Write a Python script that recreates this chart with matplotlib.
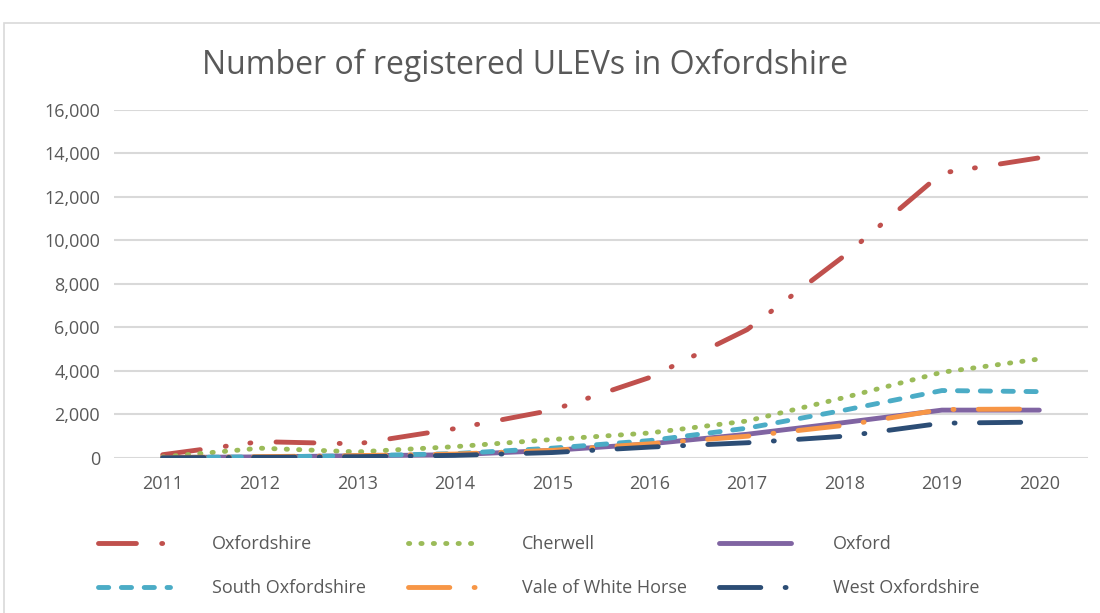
"""
Number of registered ULEVs in Oxfordshire, 2011-2020, by district.
"""

import matplotlib
matplotlib.use("Agg")
import matplotlib.pyplot as plt
from matplotlib.patches import Rectangle

years = ["2011", "2012", "2013", "2014", "2015", "2016", "2017", "2018", "2019", "2020"]

oxfordshire = [150, 750, 650, 1350, 2200, 3700, 5900, 9300, 13100, 13800]
cherwell = [50, 450, 280, 520, 850, 1150, 1700, 2780, 3940, 4550]
oxford = [20, 50, 100, 150, 350, 650, 1090, 1630, 2200, 2200]
south_oxfordshire = [20, 50, 100, 200, 450, 800, 1370, 2200, 3100, 3050]
vale_white_horse = [20, 60, 110, 180, 350, 650, 1000, 1500, 2230, 2250]
west_oxfordshire = [10, 30, 60, 120, 250, 500, 700, 1000, 1600, 1650]

series = [
    ("Oxfordshire", oxfordshire, "#C0504D", (0, (7.8, 5.2, 0.2, 4.9, 0.2, 5.2))),
    ("Cherwell", cherwell, "#9BBB59", (0, (0.25, 2.3))),
    ("Oxford", oxford, "#8064A2", "-"),
    ("South Oxfordshire", south_oxfordshire, "#4BACC6", (0, (2.1, 2.6))),
    ("Vale of White Horse", vale_white_horse, "#F79646", (0, (8.5, 5, 0.2, 5))),
    ("West Oxfordshire", west_oxfordshire, "#2C4D75", (0, (8.5, 5, 0.2, 5))),
]

text_col = "#595959"
plt.rcParams["font.family"] = ["Open Sans", "DejaVu Sans"]

fig = plt.figure(figsize=(11, 6.13), dpi=100)
ax = fig.add_axes([0.1036, 0.2529, 0.8855, 0.5677])

# chart border
fig.patches.append(Rectangle((4 / 1100, -0.05), 1.2, 1.031 - 11.5 / 613,
                             transform=fig.transFigure, fill=False,
                             edgecolor="#D9D9D9", linewidth=1.2))

x = list(range(len(years)))
lines = []
for name, vals, color, ls in series:
    ln, = ax.plot(x, vals, color=color, linestyle=ls, linewidth=3.5,
                  dash_capstyle="round", solid_capstyle="round", label=name)
    lines.append(ln)

ax.set_xlim(-0.5, len(years) - 0.5)
ax.set_ylim(0, 16000)
ax.set_yticks(range(0, 16001, 2000))
ax.set_yticklabels([f"{v:,}" for v in range(0, 16001, 2000)])
ax.set_xticks(x)
ax.set_xticklabels(years)
ax.tick_params(length=0, labelsize=13, colors=text_col, pad=10)
ax.tick_params(axis="x", pad=12)
ax.grid(axis="y", color="#D9D9D9", linewidth=1.5)
ax.set_axisbelow(True)
for s in ax.spines.values():
    s.set_visible(False)

fig.text(0.477, 0.894, "Number of registered ULEVs in Oxfordshire",
         ha="center", va="center", fontsize=23, color=text_col)

# legend: three equal-width columns, filled row by row
col_x = [98 / 1100, 408 / 1100, 719 / 1100]
for i, cx in enumerate(col_x):
    fig.legend([lines[i], lines[i + 3]],
               [series[i][0], series[i + 3][0]],
               loc="upper left", bbox_to_anchor=(cx, 0.127), frameon=False,
               fontsize=13, labelcolor=text_col, handlelength=4.0,
               handletextpad=2.3, labelspacing=1.45, borderpad=0,
               borderaxespad=0)

fig.savefig("out.png", dpi=100)
